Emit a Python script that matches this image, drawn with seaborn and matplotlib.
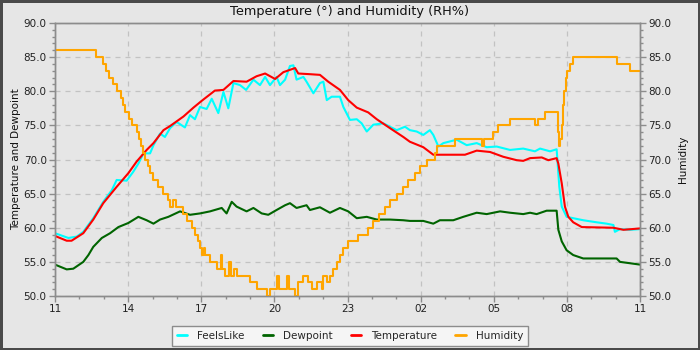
import matplotlib
matplotlib.use("Agg")
import matplotlib.pyplot as plt
from matplotlib.ticker import MultipleLocator, FormatStrFormatter
from matplotlib.patches import Rectangle
from matplotlib.lines import Line2D
import seaborn as sns

# Hours elapsed since 11:00 and readings for each series
fl_hours = [0.00, 0.55, 0.89, 1.16, 1.57, 1.98, 2.33, 2.53, 2.94, 3.21,
            3.42, 3.63, 3.90, 4.04, 4.31, 4.51, 4.72, 4.99, 5.33, 5.54,
            5.74, 5.95, 6.22, 6.43, 6.70, 6.91, 7.11, 7.32, 7.59, 7.84,
            8.14, 8.41, 8.62, 8.82, 9.09, 9.23, 9.44, 9.64, 9.78, 9.91,
            10.19, 10.32, 10.60, 10.87, 11.01, 11.15, 11.35, 11.69, 11.83, 12.10,
            12.38, 12.58, 12.79, 13.06, 13.47, 13.74, 14.02, 14.36, 14.56, 14.84,
            15.11, 15.38, 15.52, 15.73, 15.93, 16.48, 16.89, 17.30, 17.71, 18.12,
            18.67, 19.21, 19.69, 19.90, 20.31, 20.58, 20.69, 20.79, 20.99, 21.26,
            21.67, 22.22, 22.63, 22.91, 22.97, 23.18, 23.59, 24.00]
fl_values = [59.2, 58.5, 58.7, 59.4, 61.4, 63.8, 65.5, 67.0, 66.9, 68.2,
             69.4, 70.9, 70.9, 72.1, 73.8, 73.3, 74.6, 75.5, 74.7, 76.5,
             75.9, 77.7, 77.4, 78.9, 76.8, 79.9, 77.5, 81.2, 80.9, 80.2,
             81.7, 80.9, 82.1, 80.9, 82.1, 80.9, 81.7, 83.7, 83.8, 81.7,
             82.1, 81.4, 79.7, 81.2, 81.4, 78.7, 79.2, 79.2, 77.7, 75.8,
             75.9, 75.3, 74.1, 75.1, 75.3, 74.8, 74.3, 74.8, 74.3, 74.1,
             73.6, 74.3, 73.6, 71.9, 72.4, 72.9, 72.1, 72.4, 71.8, 71.9,
             71.4, 71.6, 71.2, 71.6, 71.2, 71.5, 66.0, 63.1, 61.6, 61.4,
             61.1, 60.8, 60.6, 60.4, 59.4, 59.8, 59.7, 59.8]

dp_hours = [0.00, 0.48, 0.75, 1.16, 1.37, 1.57, 1.92, 2.26, 2.60, 3.01,
            3.42, 3.76, 4.04, 4.31, 4.65, 5.13, 5.54, 5.95, 6.36, 6.84,
            7.04, 7.25, 7.45, 7.86, 8.14, 8.48, 8.75, 9.09, 9.44, 9.64,
            9.91, 10.32, 10.46, 10.87, 11.28, 11.69, 12.03, 12.38, 12.79, 13.20,
            13.74, 14.29, 14.56, 15.11, 15.52, 15.79, 16.34, 16.75, 17.30, 17.71,
            18.26, 18.67, 19.21, 19.49, 19.76, 20.17, 20.58, 20.65, 20.79, 20.99,
            21.26, 21.67, 23.04, 23.18, 23.59, 24.00]
dp_values = [54.6, 53.9, 54.0, 55.0, 56.0, 57.2, 58.5, 59.2, 60.1, 60.7,
             61.6, 61.1, 60.6, 61.2, 61.6, 62.4, 61.9, 62.1, 62.4, 62.9,
             62.1, 63.8, 63.1, 62.4, 62.9, 62.1, 61.9, 62.6, 63.3, 63.6,
             62.9, 63.3, 62.6, 63.0, 62.2, 62.9, 62.4, 61.4, 61.6, 61.2,
             61.2, 61.1, 61.0, 61.0, 60.6, 61.1, 61.1, 61.6, 62.2, 62.0,
             62.4, 62.2, 62.0, 62.2, 62.0, 62.5, 62.5, 59.7, 58.0, 56.7,
             56.0, 55.5, 55.5, 55.0, 54.8, 54.6]

temp_hours = [0.00, 0.48, 0.68, 1.16, 1.57, 1.98, 2.53, 3.01, 3.35, 3.76,
              4.04, 4.45, 4.72, 5.27, 5.68, 6.02, 6.56, 6.91, 7.32, 7.86,
              8.27, 8.62, 9.03, 9.37, 9.85, 9.98, 10.46, 10.87, 11.21, 11.69,
              12.03, 12.38, 12.85, 13.20, 13.74, 14.29, 14.56, 15.11, 15.52, 16.82,
              17.30, 17.85, 18.39, 18.94, 19.21, 19.49, 19.97, 20.24, 20.58, 20.65,
              20.79, 20.92, 21.06, 21.26, 21.61, 22.91, 23.32, 24.00]
temp_values = [58.8, 58.1, 58.1, 59.2, 61.2, 63.6, 66.0, 68.0, 69.7, 71.4,
               72.4, 74.3, 74.9, 76.3, 77.6, 78.6, 80.1, 80.2, 81.5, 81.4,
               82.2, 82.6, 81.8, 82.8, 83.4, 82.6, 82.5, 82.4, 81.4, 80.2,
               78.7, 77.6, 76.9, 75.9, 74.6, 73.3, 72.6, 71.8, 70.7, 70.7,
               71.3, 71.1, 70.4, 69.9, 69.8, 70.2, 70.3, 69.9, 70.2, 69.4,
               66.5, 63.1, 61.6, 60.8, 60.1, 60.0, 59.7, 59.9]

hum_hours = [0.00, 1.69, 1.96, 2.09, 2.23, 2.39, 2.53, 2.69, 2.80, 2.87,
             3.05, 3.15, 3.35, 3.45, 3.52, 3.60, 3.69, 3.80, 3.90, 4.04,
             4.24, 4.45, 4.65, 4.72, 4.85, 4.95, 5.27, 5.40, 5.61, 5.74,
             5.85, 5.95, 6.05, 6.10, 6.15, 6.36, 6.63, 6.80, 6.87, 6.97,
             7.15, 7.22, 7.35, 7.45, 7.73, 8.00, 8.27, 8.55, 8.68, 8.82,
             9.09, 9.18, 9.50, 9.58, 9.85, 9.98, 10.19, 10.39, 10.53, 10.74,
             10.94, 11.01, 11.15, 11.28, 11.42, 11.56, 11.69, 11.83, 12.03, 12.45,
             12.85, 13.06, 13.30, 13.54, 13.74, 14.02, 14.29, 14.50, 14.77, 14.97,
             15.25, 15.59, 15.66, 16.41, 17.50, 17.60, 17.98, 18.19, 18.67, 19.69,
             19.83, 20.10, 20.62, 20.66, 20.73, 20.78, 20.83, 20.88, 20.95, 21.02,
             21.12, 21.25, 23.07, 23.59, 24.00]
hum_values = [86, 85, 84, 83, 82, 81, 80, 79, 78, 77,
              76, 75, 74, 73, 72, 71, 70, 69, 68, 67,
              66, 65, 64, 63, 64, 63, 62, 61, 60, 59,
              58, 57, 56, 57, 56, 55, 54, 56, 54, 53,
              55, 53, 54, 53, 53, 52, 51, 51, 50, 51,
              53, 51, 53, 51, 50, 52, 53, 52, 51, 52,
              51, 53, 52, 53, 54, 55, 56, 57, 58, 59,
              60, 61, 62, 63, 64, 65, 66, 67, 68, 69,
              70, 71, 72, 73, 72, 73, 74, 75, 76, 75,
              76, 77, 74, 72, 73, 75, 78, 80, 82, 83,
              84, 85, 84, 83, 83]

hour_ticks = [0, 3, 6, 9, 12, 15, 18, 21, 24]
hour_labels = ["11", "14", "17", "20", "23", "02", "05", "08", "11"]

series_names = ["FeelsLike", "Dewpoint", "Temperature", "Humidity"]
series_colors = ["#00ffff", "#006400", "#ff0000", "#ffa500"]

sns.set_theme(style="white")
plt.rcParams["font.family"] = ["DejaVu Sans"]

bg = "#e6e6e6"
edge = "#8c8c8c"
fig = plt.figure(figsize=(7, 3.5), dpi=100, facecolor=bg)
ax = fig.add_axes([55 / 700, 54 / 350, 585 / 700, 273 / 350], facecolor=bg)
ax2 = ax.twinx()
ax2.patch.set_visible(False)

lw = 1.5
left = [(fl_hours, fl_values), (dp_hours, dp_values), (temp_hours, temp_values)]
for (hrs, vals), col in zip(left, series_colors[:3]):
    sns.lineplot(x=hrs, y=vals, ax=ax, color=col, linewidth=lw,
                 estimator=None, sort=False)
sns.lineplot(x=hum_hours, y=hum_values, ax=ax2, color=series_colors[3],
             linewidth=lw, estimator=None, sort=False, drawstyle="steps-post")

for a in (ax, ax2):
    a.set_xlim(0, 24)
    a.set_ylim(50, 90)
    a.yaxis.set_major_locator(MultipleLocator(5))
    a.yaxis.set_minor_locator(MultipleLocator(1))
    a.yaxis.set_major_formatter(FormatStrFormatter("%.1f"))
    a.tick_params(which="both", direction="out", color=edge, labelsize=7.5,
                  labelcolor="#222222", pad=2)
    a.tick_params(which="major", length=4, width=1)
    a.tick_params(which="minor", length=2, width=1)
    for s in a.spines.values():
        s.set_color(edge)
        s.set_linewidth(1)

ax.set_xticks(hour_ticks, hour_labels)
ax.xaxis.set_minor_locator(MultipleLocator(1))
ax.tick_params(axis="y", left=True, which="both")
ax.tick_params(axis="x", bottom=True, which="both")
ax2.tick_params(axis="y", right=True, which="both")

ax.grid(True, which="major", color="#c2c2c2", linestyle=(0, (4, 4)), linewidth=0.9)
ax.set_axisbelow(True)

ax.set_xlabel("")
ax.set_ylabel("Temperature and Dewpoint", fontsize=7.5, color="#111111", labelpad=2)
ax2.set_ylabel("Humidity", fontsize=7.5, color="#111111", labelpad=5)

fig.text(0.5, 1 - 11 / 350, "Temperature (°) and Humidity (RH%)", ha="center",
         va="center", fontsize=9.3, color="#111111")

handles = [Line2D([], [], color=c, linewidth=2.0) for c in series_colors]
leg = fig.legend(handles, series_names, loc="center", bbox_to_anchor=(0.5, 1 - 336 / 350),
                 ncol=4, frameon=True, fancybox=False, edgecolor=edge, facecolor="#f5f5f5",
                 framealpha=1, fontsize=7.5, handlelength=1.0, handletextpad=1.0,
                 columnspacing=1.7, borderpad=0.45)
leg.get_frame().set_linewidth(1)

fig.patches.append(Rectangle((0, 0), 1, 1, transform=fig.transFigure, fill=False,
                             edgecolor="#4a4a4a", linewidth=3.6))

fig.savefig("out.png", dpi=100, facecolor=fig.get_facecolor())
